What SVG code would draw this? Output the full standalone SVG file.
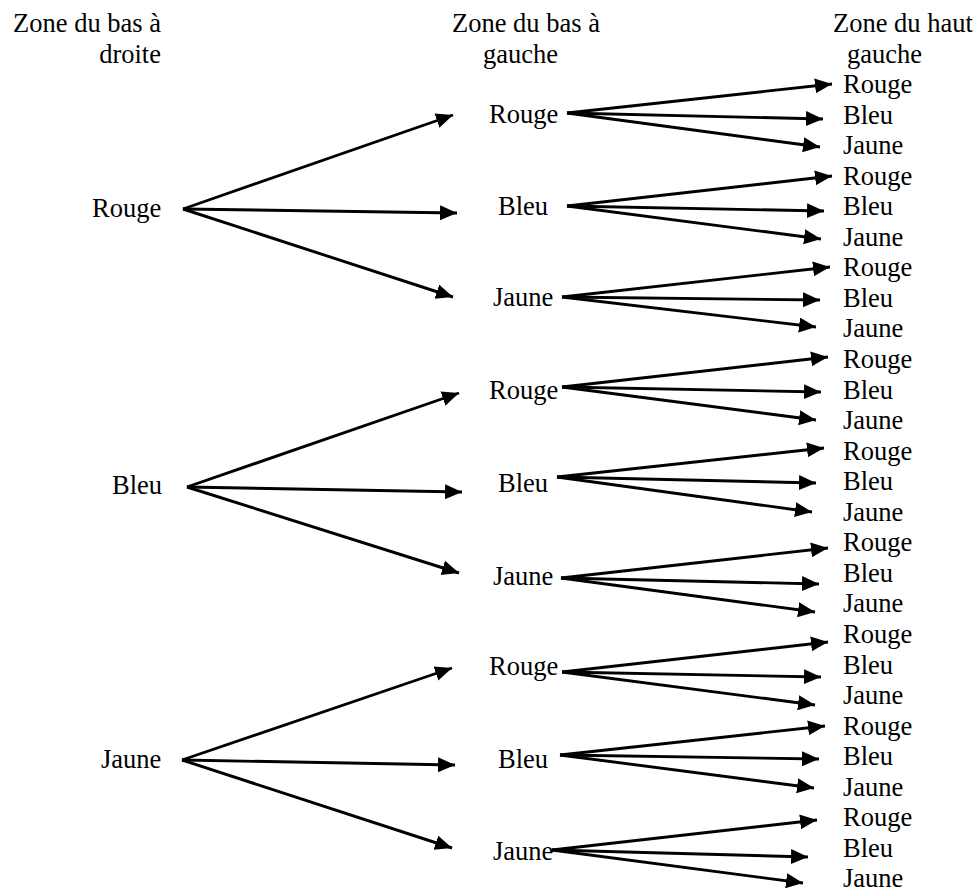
<svg xmlns="http://www.w3.org/2000/svg" width="977" height="888" viewBox="0 0 977 888">
<style>
text{font-family:'Liberation Serif','DejaVu Serif',serif;font-size:26.5px;fill:#000}
.c line{stroke:#000;stroke-width:2.9;marker-end:url(#ah)}
</style>
<defs>
<marker id="ah" markerUnits="userSpaceOnUse" markerWidth="19" markerHeight="17" refX="17" refY="7.5" orient="auto">
<path d="M0,0 L17,7.5 L0,15 z" fill="#000"/>
</marker>
</defs>
<rect width="977" height="888" fill="#fff"/>
<g id="headers">
<text x="161" y="32" text-anchor="end">Zone du bas à</text>
<text x="161" y="63" text-anchor="end">droite</text>
<text x="452" y="32">Zone du bas à</text>
<text x="483" y="63">gauche</text>
<text x="833" y="32">Zone du haut</text>
<text x="847" y="63">gauche</text>
</g>
<g id="l1-rouge"><text x="92" y="217">Rouge</text></g>
<g id="l1-bleu"><text x="112" y="494">Bleu</text></g>
<g id="l1-jaune"><text x="101" y="768">Jaune</text></g>
<g id="l2-1-rouge"><text x="489" y="123">Rouge</text></g>
<g id="l2-1-bleu"><text x="498" y="215">Bleu</text></g>
<g id="l2-1-jaune"><text x="493" y="306">Jaune</text></g>
<g id="l2-2-rouge"><text x="489" y="399">Rouge</text></g>
<g id="l2-2-bleu"><text x="498" y="492">Bleu</text></g>
<g id="l2-2-jaune"><text x="493" y="585">Jaune</text></g>
<g id="l2-3-rouge"><text x="489" y="675">Rouge</text></g>
<g id="l2-3-bleu"><text x="498" y="768">Bleu</text></g>
<g id="l2-3-jaune"><text x="493" y="860">Jaune</text></g>
<g id="l3">
<g id="l3-1"><text x="843" y="93">Rouge</text></g>
<g id="l3-2"><text x="843" y="123.6">Bleu</text></g>
<g id="l3-3"><text x="843" y="154.1">Jaune</text></g>
<g id="l3-4"><text x="843" y="184.7">Rouge</text></g>
<g id="l3-5"><text x="843" y="215.2">Bleu</text></g>
<g id="l3-6"><text x="843" y="245.8">Jaune</text></g>
<g id="l3-7"><text x="843" y="276.3">Rouge</text></g>
<g id="l3-8"><text x="843" y="306.9">Bleu</text></g>
<g id="l3-9"><text x="843" y="337.4">Jaune</text></g>
<g id="l3-10"><text x="843" y="368">Rouge</text></g>
<g id="l3-11"><text x="843" y="398.5">Bleu</text></g>
<g id="l3-12"><text x="843" y="429.1">Jaune</text></g>
<g id="l3-13"><text x="843" y="459.6">Rouge</text></g>
<g id="l3-14"><text x="843" y="490.2">Bleu</text></g>
<g id="l3-15"><text x="843" y="520.7">Jaune</text></g>
<g id="l3-16"><text x="843" y="551.3">Rouge</text></g>
<g id="l3-17"><text x="843" y="581.8">Bleu</text></g>
<g id="l3-18"><text x="843" y="612.4">Jaune</text></g>
<g id="l3-19"><text x="843" y="642.9">Rouge</text></g>
<g id="l3-20"><text x="843" y="673.5">Bleu</text></g>
<g id="l3-21"><text x="843" y="704">Jaune</text></g>
<g id="l3-22"><text x="843" y="734.6">Rouge</text></g>
<g id="l3-23"><text x="843" y="765.1">Bleu</text></g>
<g id="l3-24"><text x="843" y="795.7">Jaune</text></g>
<g id="l3-25"><text x="843" y="826.2">Rouge</text></g>
<g id="l3-26"><text x="843" y="856.8">Bleu</text></g>
<g id="l3-27"><text x="843" y="887">Jaune</text></g>
</g>
<g id="connectors" class="c">
<line x1="183" y1="209" x2="453" y2="115"/>
<line x1="183" y1="209" x2="457" y2="213"/>
<line x1="183" y1="209" x2="453" y2="297"/>
<line x1="187" y1="487" x2="459" y2="393"/>
<line x1="187" y1="487" x2="462" y2="492"/>
<line x1="187" y1="487" x2="459" y2="573"/>
<line x1="182" y1="760" x2="452" y2="668"/>
<line x1="182" y1="760" x2="455" y2="765"/>
<line x1="182" y1="760" x2="452" y2="848"/>
<line x1="567" y1="113" x2="832" y2="84"/>
<line x1="567" y1="113" x2="823" y2="119"/>
<line x1="567" y1="113" x2="820" y2="147"/>
<line x1="567" y1="206" x2="832" y2="176"/>
<line x1="567" y1="206" x2="824" y2="211"/>
<line x1="567" y1="206" x2="821" y2="239"/>
<line x1="562" y1="297" x2="830" y2="267"/>
<line x1="562" y1="297" x2="820" y2="300"/>
<line x1="562" y1="297" x2="816" y2="327"/>
<line x1="562" y1="387" x2="828" y2="357"/>
<line x1="562" y1="387" x2="821" y2="392"/>
<line x1="562" y1="387" x2="816" y2="420"/>
<line x1="557" y1="477" x2="824" y2="448"/>
<line x1="557" y1="477" x2="816" y2="483"/>
<line x1="557" y1="477" x2="812" y2="512"/>
<line x1="561" y1="578" x2="828" y2="548"/>
<line x1="561" y1="578" x2="819" y2="584"/>
<line x1="561" y1="578" x2="815" y2="612"/>
<line x1="562" y1="672" x2="828" y2="642"/>
<line x1="562" y1="672" x2="821" y2="677"/>
<line x1="562" y1="672" x2="815" y2="705"/>
<line x1="560" y1="755" x2="825" y2="726"/>
<line x1="560" y1="755" x2="819" y2="759"/>
<line x1="560" y1="755" x2="814" y2="788"/>
<line x1="552" y1="850" x2="817" y2="820"/>
<line x1="552" y1="850" x2="808" y2="857"/>
<line x1="552" y1="850" x2="803" y2="883"/>
</g>
</svg>
